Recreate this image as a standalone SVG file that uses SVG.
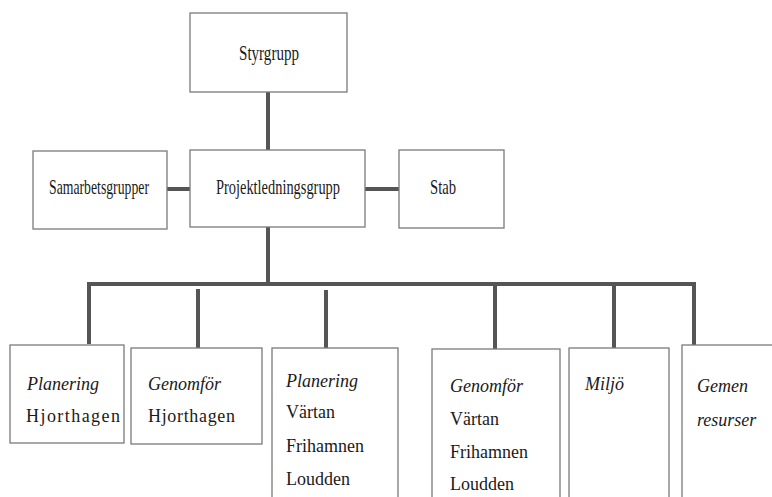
<svg xmlns="http://www.w3.org/2000/svg" width="772" height="497" viewBox="0 0 772 497">
<style>
.box{fill:#fff;stroke:#7a7a7a;stroke-width:1.3}
.ln{stroke:#555;fill:none;stroke-width:4}
</style>
<rect width="772" height="497" fill="#fff"/>
<g id="connectors">
<line class="ln" x1="268" y1="92" x2="268" y2="150" stroke-width="3"/>
<line class="ln" x1="167" y1="189" x2="190" y2="189"/>
<line class="ln" x1="365" y1="189" x2="399" y2="189"/>
<line class="ln" x1="268" y1="227" x2="268" y2="286"/>
<polyline class="ln" points="89,344 89,284 694,284 694,345"/>
<line class="ln" x1="198" y1="289" x2="198" y2="348"/>
<line class="ln" x1="326" y1="290" x2="326" y2="348"/>
<line class="ln" x1="495" y1="284" x2="495" y2="349"/>
<line class="ln" x1="614" y1="284" x2="614" y2="348"/>
</g>
<g id="styrgrupp">
<rect class="box" x="190" y="13" width="157" height="79"/>
<text x="239" y="60" font-family="Liberation Serif" font-size="21" fill="#1a1a1a" textLength="60" lengthAdjust="spacingAndGlyphs">Styrgrupp</text>
</g>
<g id="samarbetsgrupper">
<rect class="box" x="33" y="151" width="134" height="78"/>
<text x="49" y="194" font-family="Liberation Serif" font-size="21" fill="#1a1a1a" textLength="100" lengthAdjust="spacingAndGlyphs">Samarbetsgrupper</text>
</g>
<g id="projektledningsgrupp">
<rect class="box" x="190" y="150" width="175" height="77"/>
<text x="216" y="194" font-family="Liberation Serif" font-size="21" fill="#1a1a1a" textLength="124" lengthAdjust="spacingAndGlyphs">Projektledningsgrupp</text>
</g>
<g id="stab">
<rect class="box" x="399" y="150" width="105" height="78"/>
<text x="430" y="194" font-family="Liberation Serif" font-size="21" fill="#1a1a1a" textLength="26" lengthAdjust="spacingAndGlyphs">Stab</text>
</g>
<g id="planering-hjorthagen">
<rect class="box" x="10" y="345" width="114" height="98"/>
<text x="27" y="390" font-family="Liberation Serif" font-size="18" fill="#1a1a1a" font-style="italic">Planering</text>
<text x="26" y="422" font-family="Liberation Serif" font-size="18" fill="#1a1a1a" textLength="94">Hjorthagen</text>
</g>
<g id="genomfor-hjorthagen">
<rect class="box" x="131" y="348" width="131" height="96"/>
<text x="148" y="390" font-family="Liberation Serif" font-size="18" fill="#1a1a1a" font-style="italic">Genomför</text>
<text x="148" y="422" font-family="Liberation Serif" font-size="18" fill="#1a1a1a" textLength="87">Hjorthagen</text>
</g>
<g id="planering-vartan">
<rect class="box" x="272" y="348" width="126" height="160"/>
<text x="286" y="387" font-family="Liberation Serif" font-size="18" fill="#1a1a1a" font-style="italic">Planering</text>
<text x="286" y="418" font-family="Liberation Serif" font-size="18" fill="#1a1a1a">Värtan</text>
<text x="286" y="452" font-family="Liberation Serif" font-size="18" fill="#1a1a1a">Frihamnen</text>
<text x="286" y="485" font-family="Liberation Serif" font-size="18" fill="#1a1a1a">Loudden</text>
</g>
<g id="genomfor-vartan">
<rect class="box" x="432" y="349" width="128" height="160"/>
<text x="450" y="392" font-family="Liberation Serif" font-size="18" fill="#1a1a1a" font-style="italic">Genomför</text>
<text x="450" y="425" font-family="Liberation Serif" font-size="18" fill="#1a1a1a">Värtan</text>
<text x="450" y="458" font-family="Liberation Serif" font-size="18" fill="#1a1a1a">Frihamnen</text>
<text x="450" y="490" font-family="Liberation Serif" font-size="18" fill="#1a1a1a">Loudden</text>
</g>
<g id="miljo">
<rect class="box" x="569" y="348" width="100" height="160"/>
<text x="585" y="390" font-family="Liberation Serif" font-size="18" fill="#1a1a1a" font-style="italic">Miljö</text>
</g>
<g id="gemen-resurser">
<rect class="box" x="682" y="345" width="100" height="160"/>
<text x="697" y="392" font-family="Liberation Serif" font-size="18" fill="#1a1a1a" font-style="italic">Gemen</text>
<text x="697" y="426" font-family="Liberation Serif" font-size="18" fill="#1a1a1a" font-style="italic">resurser</text>
</g>
</svg>
